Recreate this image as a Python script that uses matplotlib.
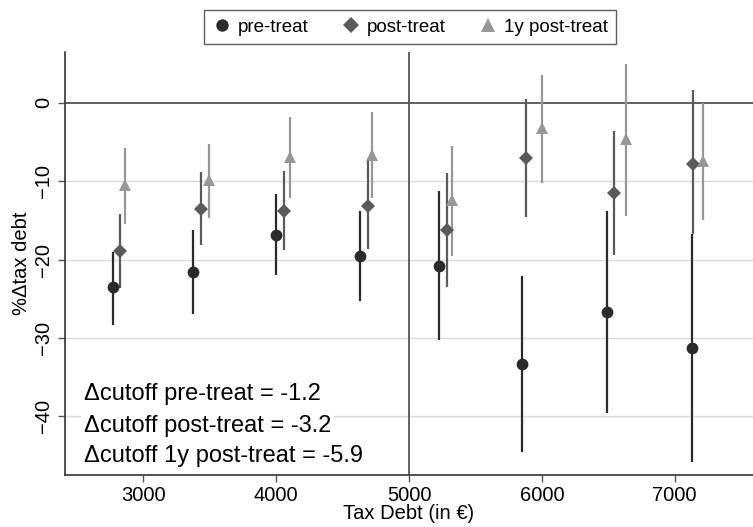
import numpy as np
import matplotlib
matplotlib.use('Agg')
import matplotlib.pyplot as plt

plt.rcParams['font.family'] = ['Liberation Sans', 'DejaVu Sans']

# 各系列の値
pre_x = [2770, 3376, 3995, 4632, 5226, 5852, 6494, 7129]
pre_y = [-23.5, -21.6, -16.8, -19.6, -20.8, -33.3, -26.7, -31.3]
pre_lo = [-28.3, -27.0, -22.0, -25.3, -30.3, -44.5, -39.6, -45.9]
pre_hi = [-19.0, -16.2, -11.6, -13.8, -11.3, -22.1, -13.8, -16.7]

post_x = [2825, 3436, 4058, 4692, 5288, 5880, 6547, 7136]
post_y = [-18.9, -13.5, -13.8, -13.1, -16.2, -7.0, -11.5, -7.8]
post_lo = [-23.6, -18.2, -18.8, -18.7, -23.5, -14.5, -19.4, -16.7]
post_hi = [-14.2, -8.8, -8.7, -7.4, -8.9, 0.5, -3.6, 1.7]

y1_x = [2862, 3496, 4105, 4722, 5325, 5999, 6637, 7213]
y1_y = [-10.5, -9.9, -6.9, -6.6, -12.4, -3.2, -4.6, -7.4]
y1_lo = [-15.5, -14.7, -12.1, -12.2, -19.6, -10.2, -14.4, -15.0]
y1_hi = [-5.7, -5.2, -1.75, -1.1, -5.5, 3.6, 5.0, 0.0]

cutoff = 5000
labels = ['pre-treat', 'post-treat', '1y post-treat']
notes = ['\u0394cutoff pre-treat = -1.2',
         '\u0394cutoff post-treat = -3.2',
         '\u0394cutoff 1y post-treat = -5.9']
note_y = [-37.1, -41.2, -45.1]

fig = plt.figure(figsize=(7.53, 5.27), dpi=100)
ax = fig.add_axes([65/753, 1-475/527, 688/753, 423/527])

ax.set_xlim(2410, 7590)
ax.set_ylim(-47.5, 6.5)

for v in [-10, -20, -30, -40]:
    ax.axhline(v, color='#d9d9d9', lw=1.0, zorder=0)
ax.axhline(0, color='#555555', lw=1.3, zorder=1)
ax.axvline(cutoff, color='#555555', lw=1.3, zorder=1)

series = [
    (pre_x, pre_y, pre_lo, pre_hi, '#2b2b2b', 'o', 8.5),
    (post_x, post_y, post_lo, post_hi, '#5a5a5a', 'D', 7.5),
    (y1_x, y1_y, y1_lo, y1_hi, '#979797', '^', 9),
]
handles = []
for (xs, ys, lo, hi, c, m, ms), lab in zip(series, labels):
    ax.vlines(xs, lo, hi, color=c, lw=1.6, zorder=2)
    h, = ax.plot(xs, ys, ls='none', marker=m, color=c, ms=ms, zorder=3,
                 markeredgewidth=0, label=lab)
    handles.append(h)

# 注記は行ごとに白背景
for txt, yy in zip(notes, note_y):
    ax.text(2554, yy, txt, fontsize=17, ha='left', va='center', zorder=4,
            bbox=dict(facecolor='white', edgecolor='none', pad=2))

ax.spines['top'].set_visible(False)
ax.spines['right'].set_visible(False)
for s in ['left', 'bottom']:
    ax.spines[s].set_color('#333333')
    ax.spines[s].set_linewidth(1.2)

ax.set_xticks([3000, 4000, 5000, 6000, 7000])
ax.set_yticks([0, -10, -20, -30, -40])
ax.tick_params(axis='both', labelsize=14.5, length=5, color='#555555', width=1)
ax.tick_params(axis='x', pad=3)
for t in ax.get_yticklabels():
    t.set_rotation(90)
    t.set_va('center')
ax.set_xlabel('Tax Debt (in \u20ac)', fontsize=14.5, labelpad=-1)
ax.set_ylabel('%\u0394tax debt', fontsize=14.5, labelpad=2)

fig.legend(handles=handles, loc='upper center', bbox_to_anchor=(410/753, 1-1/527),
           ncol=3, frameon=True, fancybox=False, edgecolor='#333333',
           fontsize=13.5, handletextpad=0.3, columnspacing=1.7,
           borderpad=0.45, handlelength=1.1, markerscale=1.05)

fig.savefig('out.png', dpi=100)
